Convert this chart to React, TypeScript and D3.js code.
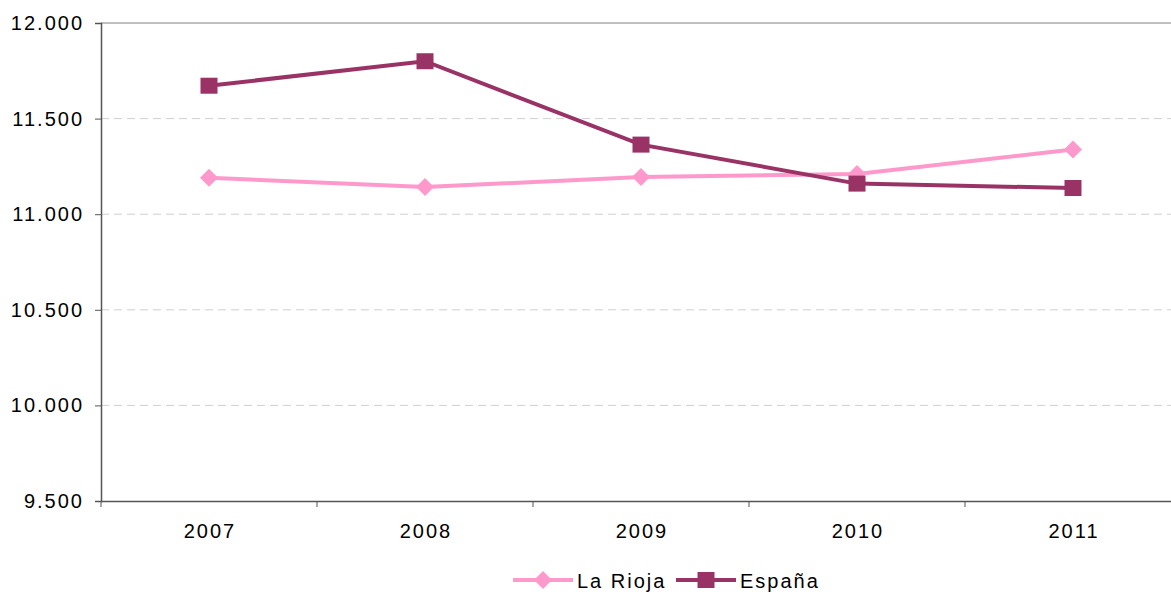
import { useEffect, useRef } from "react";
import * as d3 from "d3";

const years = ["2007", "2008", "2009", "2010", "2011"];
const laRioja = [11190, 11142, 11195, 11210, 11338];
const espana = [11672, 11800, 11364, 11160, 11137];
const yTicks = [9500, 10000, 10500, 11000, 11500, 12000];

const W = 1171;
const H = 592;

export default function App() {
  const svgRef = useRef<SVGSVGElement>(null);

  useEffect(() => {
    if (!svgRef.current) return;
    const svg = d3.select(svgRef.current);
    svg.selectAll("*").remove();

    const left = 101;
    const right = 1181;
    const top = 23;
    const bottom = 501;
    const font = "'Liberation Sans', Arial, sans-serif";
    const fontSize = "20px";
    const spacing = "2px";

    const x = d3.scaleBand<string>().domain(years).range([left, right]);
    const y = d3.scaleLinear().domain([9500, 12000]).range([bottom, top]);
    const fmt = (v: number) => d3.format(".3f")(v / 1000);

    // gridlines
    svg
      .append("g")
      .selectAll("line")
      .data(yTicks.filter((t) => t !== 9500))
      .join("line")
      .attr("x1", left)
      .attr("x2", right)
      .attr("y1", (d) => y(d))
      .attr("y2", (d) => y(d))
      .attr("stroke", (d) => (d === 12000 ? "#808080" : "#d0d0d0"))
      .attr("stroke-width", 1)
      .attr("stroke-dasharray", (d) => (d === 12000 ? null : "8,5"));

    // Y axis
    const yAxis = svg
      .append("g")
      .attr("transform", `translate(${left},0)`)
      .call(d3.axisLeft(y).tickValues(yTicks).tickSize(6).tickFormat((d) => fmt(d as number)));
    yAxis.selectAll(".domain").attr("stroke", "#555").attr("stroke-width", 1.5);
    yAxis.selectAll(".tick line").attr("stroke", "#555");
    yAxis
      .selectAll("text")
      .attr("x", -17)
      .style("font-family", font)
      .style("font-size", fontSize)
      .style("letter-spacing", spacing)
      .style("fill", "#000");

    // X axis
    const xAxis = svg
      .append("g")
      .attr("transform", `translate(0,${bottom})`)
      .call(d3.axisBottom(x).tickSize(0));
    xAxis.selectAll(".domain").attr("stroke", "#555").attr("stroke-width", 1.5);
    xAxis
      .selectAll("text")
      .attr("y", 23)
      .attr("dx", 1)
      .style("font-family", font)
      .style("font-size", fontSize)
      .style("letter-spacing", spacing)
      .style("fill", "#000");
    svg
      .append("g")
      .selectAll("line")
      .data(d3.range(years.length + 1))
      .join("line")
      .attr("x1", (i) => left + i * x.step())
      .attr("x2", (i) => left + i * x.step())
      .attr("y1", bottom)
      .attr("y2", bottom + 6)
      .attr("stroke", "#555");

    const cx = (i: number) => (x(years[i]) || 0) + x.bandwidth() / 2;
    const line = d3
      .line<number>()
      .x((_, i) => cx(i))
      .y((d) => y(d));

    const series = [
      { name: "La Rioja", values: laRioja, color: "#ff99cc", shape: "diamond" },
      { name: "España", values: espana, color: "#993366", shape: "square" },
    ];

    const marker = (g: any, shape: string, color: string, px: number, py: number) => {
      if (shape === "diamond") {
        g.append("path")
          .attr("d", `M${px},${py - 9}L${px + 9},${py}L${px},${py + 9}L${px - 9},${py}Z`)
          .attr("fill", color);
      } else {
        g.append("rect")
          .attr("x", px - 8.5)
          .attr("y", py - 8)
          .attr("width", 17)
          .attr("height", 16)
          .attr("fill", color);
      }
    };

    series.forEach((s) => {
      const g = svg.append("g");
      g.append("path")
        .attr("d", line(s.values))
        .attr("fill", "none")
        .attr("stroke", s.color)
        .attr("stroke-width", 4);
      s.values.forEach((v, i) => marker(g, s.shape, s.color, cx(i), y(v)));
    });

    // legend
    const legendY = 580;
    const legendItems = [
      { ...series[0], x0: 513 },
      { ...series[1], x0: 676 },
    ];
    legendItems.forEach((s) => {
      const g = svg.append("g");
      g.append("line")
        .attr("x1", s.x0)
        .attr("x2", s.x0 + 60)
        .attr("y1", legendY)
        .attr("y2", legendY)
        .attr("stroke", s.color)
        .attr("stroke-width", 4);
      marker(g, s.shape, s.color, s.x0 + 30, legendY);
      g.append("text")
        .attr("x", s.x0 + 64)
        .attr("y", legendY + 1)
        .attr("dominant-baseline", "central")
        .style("font-family", font)
        .style("font-size", fontSize)
        .style("letter-spacing", spacing)
        .text(s.name);
    });
  }, []);

  return (
    <svg
      ref={svgRef}
      width={W}
      height={H}
      style={{ position: "absolute", left: 0, top: 0, background: "#fff" }}
    />
  );
}
